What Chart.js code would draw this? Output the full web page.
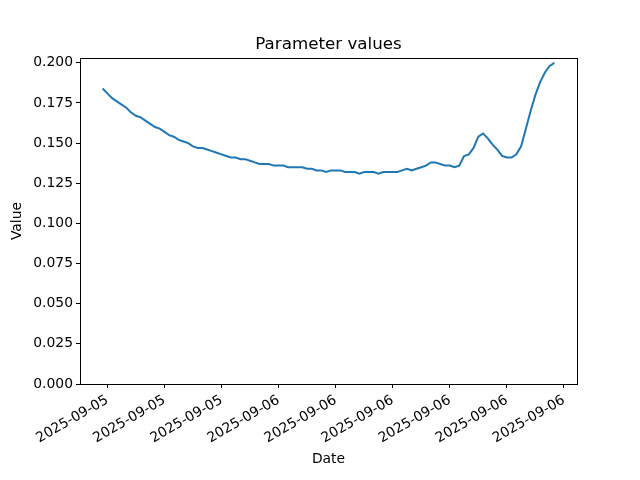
<!DOCTYPE html>
<html>
<head>
<meta charset="utf-8">
<script src="https://cdn.jsdelivr.net/npm/chart.js@4.4.1/dist/chart.umd.min.js"></script>
<style>
  html, body { margin: 0; padding: 0; background: #ffffff; }
  #wrap { width: 640px; height: 480px; }
</style>
</head>
<body>
<div id="wrap"><canvas id="c" width="640" height="480"></canvas></div>
<script>
// ---- data ----
const chartTitle = 'Parameter values';
const xAxisTitle = 'Date';
const yAxisTitle = 'Value';
// sample times: hours relative to 2025-09-06 00:00, every 15 minutes
const startHour = -9.25;
const stepHours = 0.25;
const values = [
  0.184, 0.181, 0.178, 0.176, 0.174, 0.172, 0.169, 0.167, 0.166, 0.164,
  0.162, 0.160, 0.159, 0.157, 0.155, 0.154, 0.152, 0.151, 0.150, 0.148,
  0.147, 0.147, 0.146, 0.145, 0.144, 0.143, 0.142, 0.141, 0.141, 0.140,
  0.140, 0.139, 0.138, 0.137, 0.137, 0.137, 0.136, 0.136, 0.136, 0.135,
  0.135, 0.135, 0.135, 0.134, 0.134, 0.133, 0.133, 0.132, 0.133, 0.133,
  0.133, 0.132, 0.132, 0.132, 0.131, 0.132, 0.132, 0.132, 0.131, 0.132,
  0.132, 0.132, 0.132, 0.133, 0.134, 0.133, 0.134, 0.135, 0.136, 0.138,
  0.138, 0.137, 0.136, 0.136, 0.135, 0.136, 0.142, 0.143, 0.147, 0.154,
  0.156, 0.153, 0.149, 0.146, 0.142, 0.141, 0.141, 0.143, 0.148, 0.159,
  0.170, 0.180, 0.188, 0.194, 0.198, 0.200
];
const xTickHours = [-9, -6, -3, 0, 3, 6, 9, 12, 15];
const xTickLabels = ['2025-09-05', '2025-09-05', '2025-09-05', '2025-09-06', '2025-09-06',
                     '2025-09-06', '2025-09-06', '2025-09-06', '2025-09-06'];
const yTickValues = [0, 0.025, 0.05, 0.075, 0.1, 0.125, 0.15, 0.175, 0.2];

// ---- build ----
const points = values.map((v, i) => ({ x: startHour + i * stepHours, y: v }));
const xFirst = points[0].x, xLast = points[points.length - 1].x;
const xPad = (xLast - xFirst) * 0.05;
const yMaxVal = Math.max(...values), yPad = (yMaxVal - 0) * 0.015;

const FONT = 'DejaVu Sans';
const boxPlugin = {
  id: 'box',
  afterDraw(chart) {
    const a = chart.chartArea, ctx = chart.ctx;
    ctx.save();
    ctx.strokeStyle = '#000';
    ctx.lineWidth = 1;
    ctx.strokeRect(Math.round(a.left) + 0.5, Math.round(a.top) + 0.5,
                   Math.round(a.right - a.left), Math.round(a.bottom - a.top));
    // title centred over the plot area
    ctx.fillStyle = '#000';
    ctx.font = '16.7px "' + FONT + '"';
    ctx.textAlign = 'center';
    ctx.textBaseline = 'middle';
    ctx.fillText(chartTitle, (a.left + a.right) / 2, a.top - 13);
    ctx.restore();
  }
};

new Chart(document.getElementById('c'), {
  type: 'line',
  data: {
    datasets: [{
      data: points,
      borderColor: '#1f77b4',
      borderWidth: 2,
      pointRadius: 0,
      fill: false,
      tension: 0
    }]
  },
  options: {
    responsive: false,
    animation: false,
    layout: { padding: { left: 0, right: 63, top: 58, bottom: 0 } },
    plugins: {
      legend: { display: false },
      tooltip: { enabled: false },
      title: { display: false }
    },
    scales: {
      x: {
        type: 'linear',
        min: xFirst - xPad,
        max: xLast + xPad,
        afterBuildTicks(axis) { axis.ticks = xTickHours.map(v => ({ value: v })); },
        afterFit(axis) { axis.height = 96; },
        grid: { drawOnChartArea: false, drawTicks: true, tickLength: 4, color: '#000' },
        border: { display: true, color: '#000', width: 1 },
        ticks: {
          autoSkip: false,
          minRotation: 30,
          maxRotation: 30,
          padding: 4,
          color: '#000',
          font: { family: FONT, size: 13.9 },
          callback(value) {
            const k = xTickHours.indexOf(value);
            return k >= 0 ? xTickLabels[k] : '';
          }
        },
        title: {
          display: true,
          text: xAxisTitle,
          color: '#000',
          font: { family: FONT, size: 13.9 },
          padding: { top: 0, bottom: 12 }
        }
      },
      y: {
        type: 'linear',
        min: 0,
        max: yMaxVal + yPad,
        afterBuildTicks(axis) { axis.ticks = yTickValues.map(v => ({ value: v })); },
        afterFit(axis) { axis.width = 80; },
        grid: { drawOnChartArea: false, drawTicks: true, tickLength: 4, color: '#000' },
        border: { display: true, color: '#000', width: 1 },
        ticks: {
          padding: 3,
          color: '#000',
          font: { family: FONT, size: 13.9 },
          callback(value) { return Number(value).toFixed(3); }
        },
        title: {
          display: true,
          text: yAxisTitle,
          color: '#000',
          font: { family: FONT, size: 13.9 },
          padding: { top: 9, bottom: 0 }
        }
      }
    }
  },
  plugins: [boxPlugin]
});
</script>
</body>
</html>
